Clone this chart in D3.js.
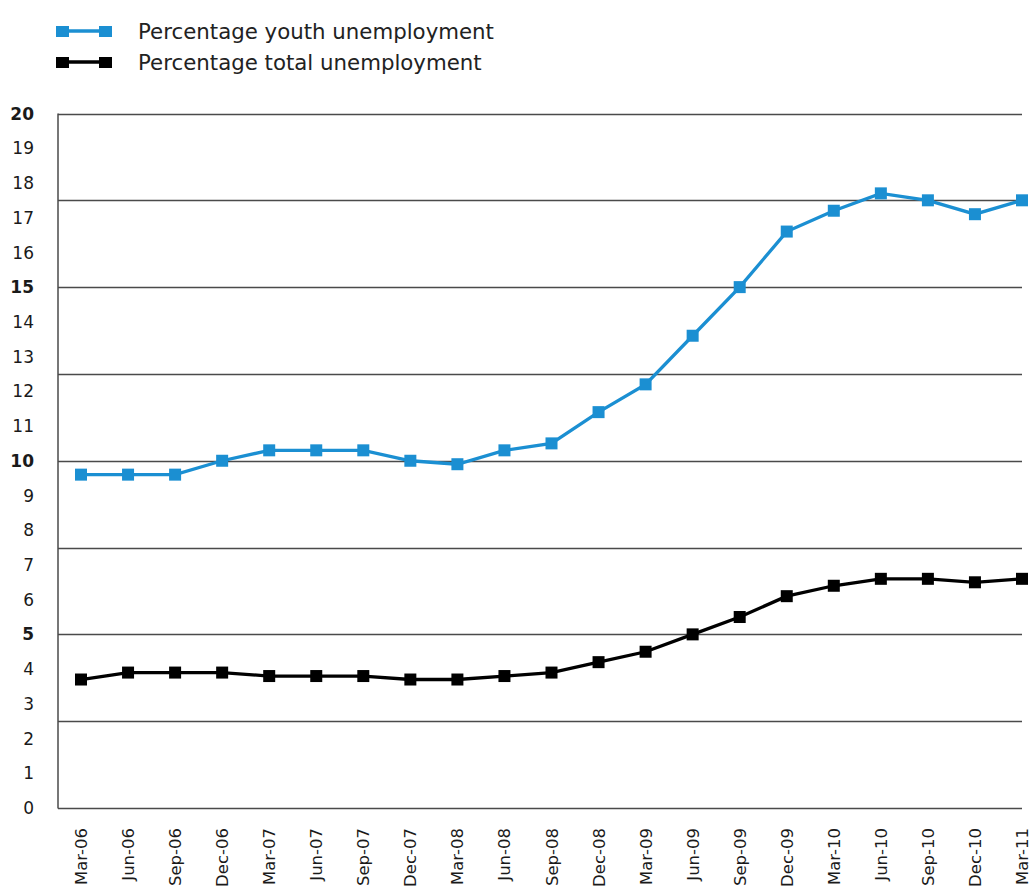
<!DOCTYPE html>
<html>
<head>
<meta charset="utf-8">
<script src="https://cdn.jsdelivr.net/npm/d3@7"></script>
<style>
  body { margin: 0; background: #fff; }
  text { font-family: "DejaVu Sans", "Open Sans", sans-serif; fill: #1a1a1a; }
</style>
</head>
<body>
<svg id="chart" width="1031" height="890"></svg>
<script>
// quarters on the x axis
const quarters = ['Mar-06', 'Jun-06', 'Sep-06', 'Dec-06', 'Mar-07', 'Jun-07', 'Sep-07', 'Dec-07',
  'Mar-08', 'Jun-08', 'Sep-08', 'Dec-08', 'Mar-09', 'Jun-09', 'Sep-09', 'Dec-09',
  'Mar-10', 'Jun-10', 'Sep-10', 'Dec-10', 'Mar-11'];

const youthRate = [9.6, 9.6, 9.6, 10.0, 10.3, 10.3, 10.3, 10.0, 9.9, 10.3, 10.5,
  11.4, 12.2, 13.6, 15.0, 16.6, 17.2, 17.7, 17.5, 17.1, 17.5];

const totalRate = [3.7, 3.9, 3.9, 3.9, 3.8, 3.8, 3.8, 3.7, 3.7, 3.8, 3.9,
  4.2, 4.5, 5.0, 5.5, 6.1, 6.4, 6.6, 6.6, 6.5, 6.6];

const yTickLabels = [0, 1, 2, 3, 4, 5, 6, 7, 8, 9, 10, 11, 12, 13, 14, 15, 16, 17, 18, 19, 20];
const gridValues = [2.5, 5, 7.5, 10, 12.5, 15, 17.5, 20];
const boldTicks = [5, 10, 15, 20];

const seriesList = [
  { name: 'Percentage youth unemployment', values: youthRate, color: '#1b8fd2' },
  { name: 'Percentage total unemployment', values: totalRate, color: '#000000' }
];

const svg = d3.select('#chart');
const plotLeft = 58, plotRight = 1022, plotTop = 113.5, plotBottom = 808;

const x = d3.scalePoint().domain(quarters).range([81, 1022]);
const y = d3.scaleLinear().domain([0, 20]).range([plotBottom, plotTop]);

// grid lines every 2.5
svg.append('g').selectAll('line').data(gridValues).enter().append('line')
  .attr('x1', plotLeft).attr('x2', plotRight)
  .attr('y1', d => Math.round(y(d)) + 0.5).attr('y2', d => Math.round(y(d)) + 0.5)
  .attr('stroke', '#4a4a4a').attr('stroke-width', 1.3);

// axes lines
svg.append('line')
  .attr('x1', plotLeft).attr('x2', plotLeft).attr('y1', plotTop).attr('y2', plotBottom + 0.5)
  .attr('stroke', '#4a4a4a').attr('stroke-width', 1.5);
svg.append('line')
  .attr('x1', plotLeft).attr('x2', plotRight).attr('y1', plotBottom + 0.5).attr('y2', plotBottom + 0.5)
  .attr('stroke', '#4a4a4a').attr('stroke-width', 1.5);

// y tick labels
svg.append('g').selectAll('text').data(yTickLabels).enter().append('text')
  .attr('x', 34)
  .attr('y', d => y(d))
  .attr('dy', '0.36em')
  .attr('text-anchor', 'end')
  .style('font-size', '17px')
  .style('font-weight', d => boldTicks.includes(d) ? 'bold' : 'normal')
  .text(d => d);

// x tick labels, rotated
svg.append('g').selectAll('text').data(quarters).enter().append('text')
  .attr('transform', d => 'translate(' + (x(d) + 6) + ',828) rotate(-90)')
  .attr('text-anchor', 'end')
  .style('font-size', '16.5px')
  .text(d => d);

const line = d3.line()
  .x((d, i) => x(quarters[i]))
  .y(d => y(d));

const marker = 12;

seriesList.forEach(s => {
  svg.append('path')
    .datum(s.values)
    .attr('d', line)
    .attr('fill', 'none')
    .attr('stroke', s.color)
    .attr('stroke-width', 3.3);
  svg.append('g').selectAll('rect').data(s.values).enter().append('rect')
    .attr('x', (d, i) => x(quarters[i]) - marker / 2)
    .attr('y', d => y(d) - marker / 2)
    .attr('width', marker)
    .attr('height', marker)
    .attr('fill', s.color);
});

// legend
const legend = svg.append('g');
seriesList.forEach((s, i) => {
  const ly = 31 + i * 31;
  legend.append('line')
    .attr('x1', 62).attr('x2', 105).attr('y1', ly).attr('y2', ly)
    .attr('stroke', s.color).attr('stroke-width', 3.3);
  [62, 105].forEach(cx => {
    legend.append('rect')
      .attr('x', cx - 6).attr('y', ly - 5)
      .attr('width', 13).attr('height', 11)
      .attr('fill', s.color);
  });
  legend.append('text')
    .attr('x', 138).attr('y', ly)
    .attr('dy', '0.36em')
    .style('font-size', '21.3px')
    .style('fill', '#222')
    .text(s.name);
});
</script>
</body>
</html>
